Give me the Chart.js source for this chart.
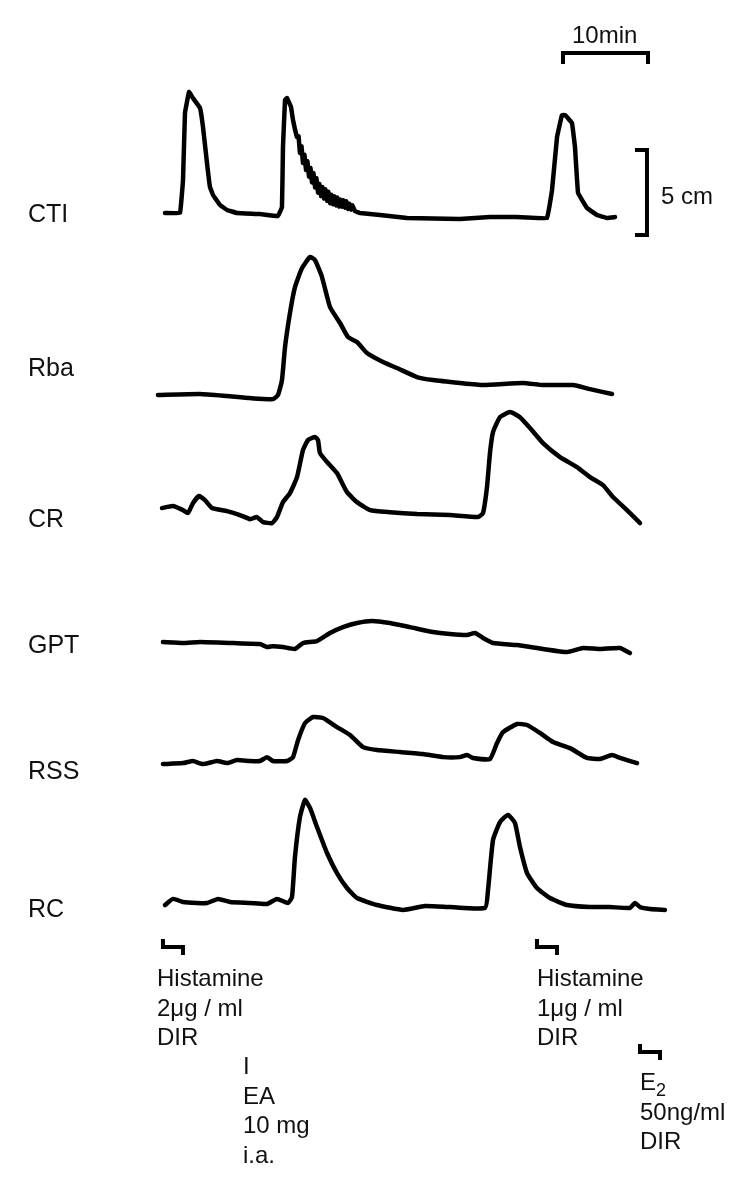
<!DOCTYPE html>
<html>
<head>
<meta charset="utf-8">
<script src="https://cdn.jsdelivr.net/npm/chart.js@4/dist/chart.umd.min.js"></script>
<style>
  body { margin: 0; background: #fff; }
  #wrap { position: relative; width: 750px; height: 1177px; overflow: hidden; }
  #chart { position: absolute; left: 0; top: 0; }
  .txt {
    position: absolute;
    font-family: "Liberation Sans", Arial, sans-serif;
    font-size: 24px;
    line-height: 29.5px;
    color: #111;
    white-space: nowrap;
  }
  .lbl { font-size: 25px; line-height: 30px; }
  sub { font-size: 18px; vertical-align: -6px; line-height: 0; }
</style>
</head>
<body>
<div id="wrap">
  <canvas id="chart" width="750" height="1177"></canvas>

  <div class="txt lbl" style="left:28px;top:198px">CTI</div>
  <div class="txt lbl" style="left:28px;top:352px">Rba</div>
  <div class="txt lbl" style="left:28px;top:503px">CR</div>
  <div class="txt lbl" style="left:28px;top:629px">GPT</div>
  <div class="txt lbl" style="left:28px;top:755px">RSS</div>
  <div class="txt lbl" style="left:28px;top:893px">RC</div>

  <div class="txt" style="left:572px;top:20px">10min</div>
  <div class="txt" style="left:661px;top:181px">5 cm</div>

  <div class="txt" style="left:157px;top:963px">Histamine<br>2μg / ml<br>DIR</div>
  <div class="txt" style="left:243px;top:1051px">I<br>EA<br>10 mg<br>i.a.</div>
  <div class="txt" style="left:537px;top:963px">Histamine<br>1μg / ml<br>DIR</div>
  <div class="txt" style="left:640px;top:1067px">E<sub>2</sub><br>50ng/ml<br>DIR</div>
</div>

<script>
// time in minutes, amplitude in cm above each trace's resting level
const ctiTime = [0.59, 2.35, 2.71, 2.94, 3.41, 3.88, 4.71, 5.06, 5.53, 5.88, 6.24, 7.06, 7.88, 9.06, 11.76, 13.88,
  14.35, 14.47, 14.71, 14.94, 15.41, 15.65, 16.12,
  16.30, 16.47, 16.65, 16.82, 17.00, 17.18, 17.35, 17.53, 17.71, 17.88, 18.06, 18.24, 18.41, 18.59, 18.76,
  18.94, 19.12, 19.29, 19.47, 19.65, 19.82, 20.0, 20.18, 20.35, 20.53, 20.71, 20.88, 21.06, 21.24, 21.41,
  21.59, 21.76, 21.94, 22.12, 22.29, 22.47, 22.65, 22.94, 23.53,
  25.88, 29.06, 35.29, 38.82, 42.0, 45.53,
  46.12, 46.71, 47.29, 47.65, 48.47, 48.82, 49.18, 50.24, 51.41, 52.59, 53.53];
const ctiCm = [0, 0, 1.94, 5.88, 7.12, 6.76, 6.18, 5.06, 2.94, 1.53, 1.06, 0.47, 0.18, 0, -0.06, -0.18,
  0.35, 3.88, 6.65, 6.76, 6.24, 5.47, 4.47,
  4.52, 3.53, 3.93, 2.94, 3.42, 2.53, 3.04, 2.14, 2.65, 1.80, 2.35, 1.50, 2.05, 1.20, 1.70,
  1.00, 1.53, 0.86, 1.39, 0.72, 1.25, 0.58, 1.07, 0.51, 0.98, 0.45, 0.91, 0.38, 0.80, 0.37,
  0.74, 0.31, 0.68, 0.24, 0.55, 0.20, 0.45, 0.10, 0,
  -0.12, -0.29, -0.35, -0.24, -0.24, -0.29,
  1.35, 4.47, 5.76, 5.76, 5.29, 3.88, 1.18, 0.29, -0.12, -0.29, -0.24];

const rbaTime = [-0.24, 4.71, 7.88, 10.59, 13.29, 13.88, 14.35, 14.71, 15.29, 15.88, 16.71, 17.65, 18.24, 19.06,
  20.0, 21.18, 22.12, 23.18, 24.35, 26.24, 27.88, 30.24, 32.12, 35.29, 38.0, 42.71, 45.06, 48.59, 50.59, 53.18];
const rbaCm = [0, 0.06, -0.06, -0.18, -0.24, 0, 0.88, 2.82, 4.82, 6.35, 7.47, 8.12, 7.94, 6.94,
  5.18, 4.24, 3.41, 3.12, 2.47, 1.94, 1.59, 1.06, 0.88, 0.71, 0.59, 0.71, 0.59, 0.59, 0.35, 0.06];

const crTime = [0.24, 1.53, 2.71, 3.29, 3.88, 4.59, 5.29, 6.12, 7.88, 9.41, 10.59, 11.41, 12.12, 13.18, 13.76,
  14.47, 15.29, 16.12, 16.82, 17.41, 18.24, 18.59, 18.82, 19.65, 20.82, 22.0, 23.18, 24.71, 27.06, 30.24,
  34.12, 37.41, 38.0, 38.47, 38.82, 39.18, 40.0, 41.18, 42.35, 43.53, 45.06, 47.06, 49.06, 50.59, 52.12,
  53.29, 54.94, 56.47];
const crCm = [0, 0.12, -0.12, -0.29, 0.29, 0.71, 0.47, 0, -0.18, -0.41, -0.65, -0.53, -0.82, -0.88, -0.53,
  0.35, 0.88, 1.82, 3.41, 4.0, 4.18, 4.0, 3.24, 2.71, 2.06, 0.94, 0.35, -0.12, -0.24, -0.35,
  -0.41, -0.53, -0.29, 1.24, 3.24, 4.47, 5.35, 5.65, 5.35, 4.71, 3.82, 3.0, 2.41, 1.82, 1.35,
  0.65, -0.12, -0.88];

const gptTime = [0.35, 2.71, 4.71, 8.59, 11.76, 12.59, 13.29, 14.47, 15.88, 16.82, 18.47, 20.0, 21.53, 23.18,
  24.94, 27.06, 29.41, 32.12, 34.12, 36.12, 37.06, 38.0, 39.18, 42.0, 45.06, 47.88, 49.76, 51.76, 54.12, 55.29];
const gptCm = [0, -0.06, 0, -0.06, -0.12, -0.29, -0.24, -0.29, -0.41, -0.06, 0.06, 0.53, 0.88, 1.12,
  1.24, 1.12, 0.88, 0.59, 0.47, 0.41, 0.53, 0.24, -0.06, -0.18, -0.41, -0.59, -0.35, -0.41, -0.35, -0.65];

const rssTime = [0.35, 2.71, 3.88, 5.06, 6.71, 7.88, 9.06, 10.59, 11.76, 12.59, 13.29, 14.94, 15.65, 16.24,
  17.06, 18.0, 19.18, 20.82, 22.35, 23.88, 25.53, 28.24, 30.94, 33.29, 35.29, 36.12, 36.82, 38.82, 39.65,
  40.35, 42.0, 43.18, 44.71, 46.24, 48.24, 50.24, 51.76, 53.18, 54.12, 56.12];
const rssCm = [-0.12, -0.06, 0.06, -0.12, 0.06, -0.06, 0.12, 0.06, 0.06, 0.29, 0.06, 0.06, 0.29, 1.29,
  2.29, 2.65, 2.59, 2.06, 1.59, 0.88, 0.71, 0.59, 0.47, 0.29, 0.29, 0.41, 0.24, 0.18, 1.12,
  1.76, 2.24, 2.18, 1.71, 1.18, 0.82, 0.24, 0.18, 0.41, 0.24, -0.06];

const rcTime = [0.59, 1.53, 2.71, 4.35, 5.53, 6.82, 8.24, 10.59, 12.59, 13.76, 15.06, 15.53, 15.88, 16.47,
  17.06, 17.65, 18.47, 19.65, 20.82, 22.0, 23.18, 25.53, 28.59, 31.18, 34.12, 38.24, 38.59, 39.18, 40.0,
  40.94, 41.76, 42.35, 43.18, 44.35, 45.88, 47.88, 50.59, 52.94, 55.29, 55.88, 56.47, 57.65, 59.41];
const rcCm = [-0.12, 0.24, 0.06, 0, 0, 0.24, 0.06, 0, -0.06, 0.24, 0, 0.35, 2.71, 5.06,
  6.06, 5.59, 4.47, 2.94, 1.76, 0.88, 0.29, -0.12, -0.41, -0.18, -0.24, -0.29, 0.76, 3.71, 4.76,
  5.18, 4.71, 3.29, 1.76, 0.88, 0.29, -0.12, -0.24, -0.24, -0.29, 0, -0.24, -0.35, -0.41];

// stimulus marks (minutes) and the calibration bars
const stimTimes = [0.35, 44.35, 56.47];
const barMinutes = 10;
const barCm = 5;

// layout: where each trace rests on the page (cm from the bottom), scale mapping
const traceBase = [56.71, 46.0, 39.35, 31.47, 24.41, 16.12];
const X_MIN = -18.82, X_MAX = 69.41;   // 8.5 px per minute
const Y_MIN = 0, Y_MAX = 69.24;        // 17 px per cm
const stimY = [941, 941, 1046];

const traces = [
  [ctiTime, ctiCm], [rbaTime, rbaCm], [crTime, crCm],
  [gptTime, gptCm], [rssTime, rssCm], [rcTime, rcCm]
];

const datasets = traces.map(([t, v], i) => ({
  data: t.map((x, k) => ({ x: x, y: v[k] + traceBase[i] })),
  borderColor: '#000',
  borderWidth: 4.5,
  borderCapStyle: 'round',
  borderJoinStyle: 'round',
  pointRadius: 0,
  showLine: true,
  tension: i === 0 ? 0.05 : 0.15,
  clip: false
}));

const marks = {
  id: 'marks',
  afterDraw(chart) {
    const ctx = chart.ctx;
    const xs = chart.scales.x, ys = chart.scales.y;
    ctx.save();
    ctx.strokeStyle = '#000';
    ctx.lineWidth = 4;
    ctx.lineCap = 'square';

    // 10 min bar
    const x0 = xs.getPixelForValue(47.41), x1 = xs.getPixelForValue(47.41 + barMinutes);
    ctx.beginPath();
    ctx.moveTo(x0, 62); ctx.lineTo(x0, 53); ctx.lineTo(x1, 53); ctx.lineTo(x1, 62);
    ctx.stroke();

    // 5 cm bar
    const bx = xs.getPixelForValue(57.29);
    const y0 = ys.getPixelForValue(55.41), y1 = ys.getPixelForValue(55.41 + barCm);
    ctx.beginPath();
    ctx.moveTo(bx - 10, y1); ctx.lineTo(bx, y1); ctx.lineTo(bx, y0); ctx.lineTo(bx - 10, y0);
    ctx.stroke();

    // stimulus markers
    stimTimes.forEach((t, i) => {
      const sx = xs.getPixelForValue(t), sy = stimY[i];
      ctx.beginPath();
      ctx.moveTo(sx, sy); ctx.lineTo(sx, sy + 6); ctx.lineTo(sx + 20, sy + 6); ctx.lineTo(sx + 20, sy + 12);
      ctx.stroke();
    });
    ctx.restore();
  }
};

new Chart(document.getElementById('chart'), {
  type: 'scatter',
  data: { datasets },
  options: {
    responsive: false,
    animation: false,
    devicePixelRatio: 1,
    layout: { padding: 0 },
    plugins: { legend: { display: false }, tooltip: { enabled: false } },
    scales: {
      x: { type: 'linear', display: false, min: X_MIN, max: X_MAX },
      y: { type: 'linear', display: false, min: Y_MIN, max: Y_MAX }
    }
  },
  plugins: [marks]
});
</script>
</body>
</html>
